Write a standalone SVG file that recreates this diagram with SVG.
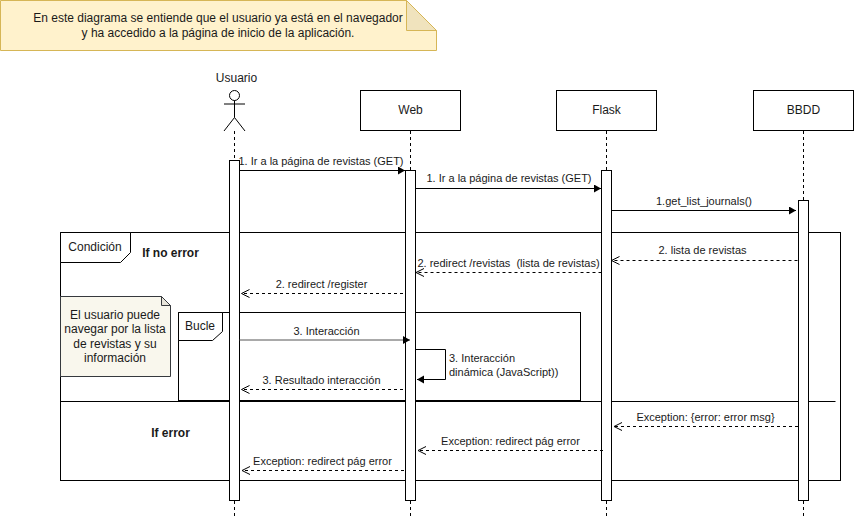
<svg xmlns="http://www.w3.org/2000/svg" width="855" height="521" viewBox="0 0 855 521">
<style>
text{font-family:"Liberation Sans",Arial,sans-serif;font-size:11px;fill:#1a1a1a;text-anchor:middle}
.l12{font-size:12px}
.b{font-weight:bold;font-size:12px}
.s{fill:none;stroke:#000;stroke-width:1}
.box{fill:#fff;stroke:#000;stroke-width:1}
.life{fill:none;stroke:#000;stroke-width:1;stroke-dasharray:3 3}
.sync{fill:none;stroke:#000;stroke-width:1;marker-end:url(#solid)}
.ret{fill:none;stroke:#000;stroke-width:1;stroke-dasharray:3 3;marker-end:url(#open)}
</style>
<defs>
<marker id="solid" markerUnits="userSpaceOnUse" markerWidth="10" markerHeight="10" refX="7" refY="4" orient="auto"><path d="M0 0L7 4L0 8Z" fill="#000"/></marker>
<marker id="open" markerUnits="userSpaceOnUse" markerWidth="12" markerHeight="12" refX="9" refY="5" orient="auto"><path d="M1 1L9 5L1 9" fill="none" stroke="#000"/></marker>
</defs>
<rect width="855" height="521" fill="#fff"/>
<g id="note-top">
<path d="M0.5 0.5H406.5L436.5 30.5V50.5H0.5Z" fill="#fff2cc" stroke="#d6b656"/>
<path d="M406.5 0.5V30.5H436.5Z" fill="#f0e3bd" stroke="#d6b656"/>
<text class="l12" x="218" y="22">En este diagrama se entiende que el usuario ya está en el navegador</text>
<text class="l12" x="218" y="37">y ha accedido a la página de inicio de la aplicación.</text>
</g>
<g id="lifelines">
<path class="life" d="M234.5 131V160M234.5 501V517M410.5 131V170M410.5 501V517M606.5 131V170M606.5 501V517M803.5 131V200M803.5 501V517"/>
</g>
<g id="frame-condicion">
<rect class="s" x="60.5" y="232.5" width="780" height="248"/>
<path d="M60.5 232.5H130.5V252.5L120.5 262.5H60.5Z" class="box"/>
<text class="l12" x="95" y="250.5">Condición</text>
<text class="b" x="170.500" y="256.500">If no error</text>
<path class="s" d="M60.5 401.500H835.500"/>
<text class="b" x="170.500" y="436.500">If error</text>
</g>
<g id="frame-bucle">
<rect class="s" x="178.500" y="312.500" width="402" height="88"/>
<path d="M178.500 312.500H222.500V331.500L212.500 340.500H178.500Z" class="box"/>
<text class="l12" x="200" y="330">Bucle</text>
</g>
<g id="note-usuario">
<path d="M60.500 296.500H161.500L170.500 305.500V376.500H60.500Z" fill="#f9f7ed" stroke="#36393d"/>
<path d="M161.500 296.500V305.500H170.500Z" fill="#e8e5da" stroke="#36393d"/>
<text class="l12" x="115" y="319">El usuario puede</text>
<text class="l12" x="115" y="333">navegar por la lista</text>
<text class="l12" x="115" y="348">de revistas y su</text>
<text class="l12" x="115" y="362">información</text>
</g>
<g id="usuario">
<text class="l12" x="236.500" y="82">Usuario</text>
<circle class="s" cx="234.500" cy="95.500" r="5"/>
<path class="s" d="M234.500 100.500V117.500M224 104H245M234.500 117.500L224 131M234.500 117.500L245 131"/>
<rect class="box" x="229.500" y="160.500" width="10" height="340"/>
</g>
<g id="web">
<rect class="box" x="360.500" y="90.500" width="100" height="40"/>
<text class="l12" x="410.500" y="114">Web</text>
<rect class="box" x="405.500" y="170.500" width="10" height="330"/>
</g>
<g id="flask">
<rect class="box" x="556.500" y="90.500" width="100" height="40"/>
<text class="l12" x="606.500" y="114">Flask</text>
<rect class="box" x="601.500" y="170.500" width="10" height="330"/>
</g>
<g id="bbdd">
<rect class="box" x="753.500" y="90.500" width="100" height="40"/>
<text class="l12" x="803.500" y="114">BBDD</text>
<rect class="box" x="798.500" y="200.500" width="10" height="300"/>
</g>
<g id="connectors">
<path class="sync" d="M239.500 170.500H405"/>
<path class="sync" d="M415.500 188.500H601"/>
<path class="sync" d="M611 210.500H796"/>
<path class="ret" d="M797.500 260.500H611.500"/>
<path class="ret" d="M601.500 272.500H416"/>
<path class="ret" d="M403 293.500H241.500"/>
<path class="sync" d="M239.500 340H410" style="stroke:#555"/>
<path class="sync" d="M415.500 349.500H445.500V379.500H417"/>
<path class="ret" d="M403 389.500H241.500"/>
<path class="ret" d="M798 426.500H614"/>
<path class="ret" d="M603 450.500H418"/>
<path class="ret" d="M404 470.500H242"/>
</g>
<g id="labels">
<text x="321" y="165">1. Ir a la página de revistas (GET)</text>
<text x="509" y="182">1. Ir a la página de revistas (GET)</text>
<text x="704" y="205">1.get_list_journals()</text>
<text x="702.500" y="254">2. lista de revistas</text>
<text x="508.500" y="267" style="white-space:pre">2. redirect /revistas  (lista de revistas)</text>
<text x="321.500" y="288">2. redirect /register</text>
<text x="326.500" y="335">3. Interacción</text>
<text x="321.500" y="384">3. Resultado interacción</text>
<text x="449" y="362" style="text-anchor:start">3. Interacción</text>
<text x="449" y="376" style="text-anchor:start">dinámica (JavaScript))</text>
<text x="705.500" y="421">Exception: {error: error msg}</text>
<text x="510.500" y="445">Exception: redirect pág error</text>
<text x="322.500" y="465">Exception: redirect pág error</text>
</g>
</svg>
